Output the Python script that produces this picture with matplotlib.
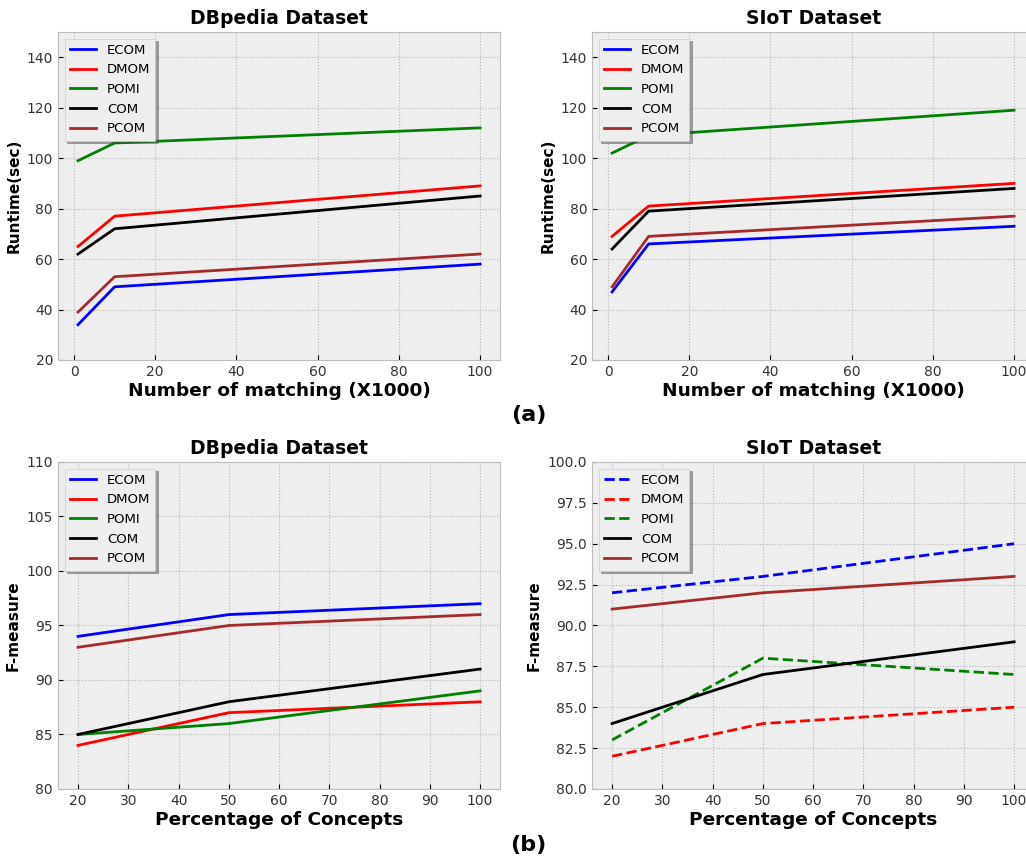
import matplotlib
matplotlib.use('Agg')
from matplotlib import pyplot as plt

plt.style.use('bmh')

labels = ['ECOM', 'DMOM', 'POMI', 'COM', 'PCOM']
colors = ['blue', 'red', 'green', 'black', 'brown']

matching = [1, 10, 100]
rt_dbpedia = {
    'ECOM': [34, 49, 58],
    'DMOM': [65, 77, 89],
    'POMI': [99, 106, 112],
    'COM': [62, 72, 85],
    'PCOM': [39, 53, 62],
}
rt_siot = {
    'ECOM': [47, 66, 73],
    'DMOM': [69, 81, 90],
    'POMI': [102, 109, 119],
    'COM': [64, 79, 88],
    'PCOM': [49, 69, 77],
}

concepts = [20, 50, 100]
fm_dbpedia = {
    'ECOM': [94, 96, 97],
    'DMOM': [84, 87, 88],
    'POMI': [85, 86, 89],
    'COM': [85, 88, 91],
    'PCOM': [93, 95, 96],
}
fm_siot = {
    'ECOM': [92, 93, 95],
    'DMOM': [82, 84, 85],
    'POMI': [83, 88, 87],
    'COM': [84, 87, 89],
    'PCOM': [91, 92, 93],
}
siot_styles = ['--', '--', '--', '-', '-']


def draw(ax, x, data, title, xlabel, ylabel, ylim, styles=None):
    for i, name in enumerate(labels):
        ls = styles[i] if styles else '-'
        ax.plot(x, data[name], color=colors[i], ls=ls, lw=2, label=name)
    ax.set_title(title, fontsize=13.5, fontweight='bold')
    ax.set_xlabel(xlabel, fontsize=13.3, fontweight='bold', labelpad=2)
    ax.set_ylabel(ylabel, fontsize=11, fontweight='bold')
    ax.set_ylim(*ylim)
    ax.grid(True, ls=':', color='#b5b5b5', lw=0.8)
    ax.tick_params(labelsize=10, labelcolor='#333333')
    ax.legend(loc='upper left', shadow=True, fontsize=9.5, fancybox=False, facecolor='#eeeeee')


fig = plt.figure(figsize=(10.26, 8.6), dpi=100)
fig.patch.set_facecolor('white')
ax1 = fig.add_axes([0.0565, 0.5814, 0.431, 0.3814])
ax2 = fig.add_axes([0.577, 0.5814, 0.431, 0.3814])
ax3 = fig.add_axes([0.0565, 0.0826, 0.431, 0.3802])
ax4 = fig.add_axes([0.577, 0.0826, 0.431, 0.3802])

draw(ax1, matching, rt_dbpedia, 'DBpedia Dataset', 'Number of matching (X1000)', 'Runtime(sec)', (20, 150))
draw(ax2, matching, rt_siot, 'SIoT Dataset', 'Number of matching (X1000)', 'Runtime(sec)', (20, 150))
draw(ax3, concepts, fm_dbpedia, 'DBpedia Dataset', 'Percentage of Concepts', 'F-measure', (80, 110))
draw(ax4, concepts, fm_siot, 'SIoT Dataset', 'Percentage of Concepts', 'F-measure', (80, 100), siot_styles)

fig.text(0.515, 0.517, '(a)', fontsize=16, fontweight='bold', ha='center', va='center')
fig.text(0.515, 0.017, '(b)', fontsize=16, fontweight='bold', ha='center', va='center')

fig.savefig('out.png', dpi=100)
